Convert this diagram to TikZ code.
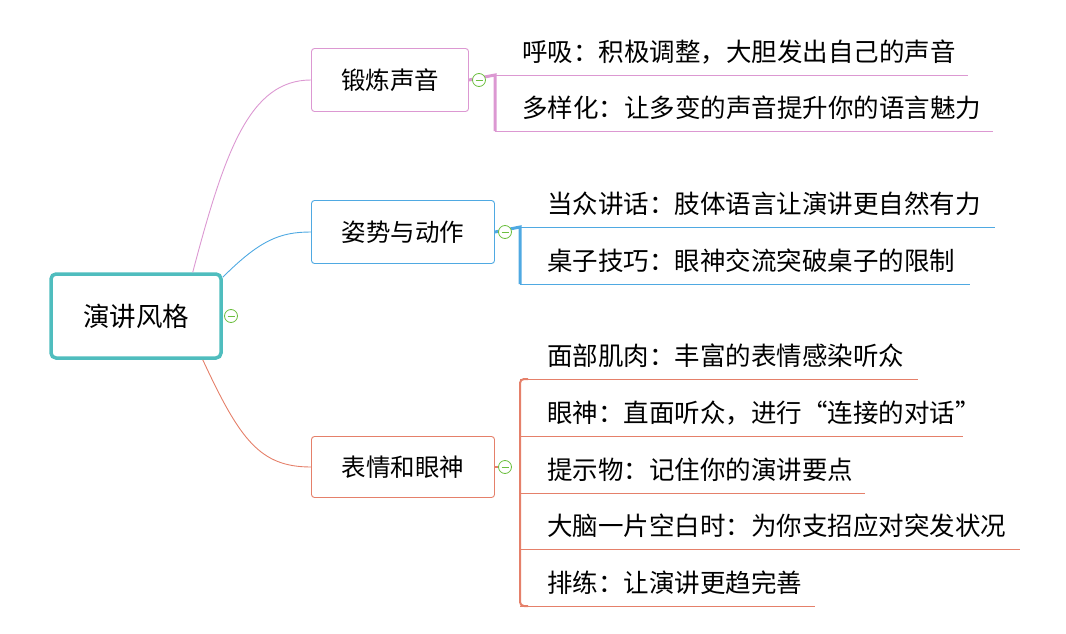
\documentclass[tikz,border=0pt]{standalone}
\usepackage{fontspec}
\newfontfamily\cjk{Noto Sans CJK SC}
\definecolor{rootc}{HTML}{4FBDBE}
\definecolor{pinkc}{HTML}{DC98D2}
\definecolor{bluec}{HTML}{4FA9E2}
\definecolor{redc}{HTML}{E5806A}
\definecolor{knobc}{HTML}{6CBF3F}
\tikzset{
  topic/.style={draw, line width=0.9pt, rounded corners=3pt, fill=white, font=\cjk\fontsize{24.5}{27}\selectfont, inner sep=0pt},
  leaf/.style={anchor=south west, inner xsep=27pt, inner ysep=11pt, align=left, font=\cjk\fontsize{25.5}{28}\selectfont},
  knob/.style={circle, draw=knobc, fill=white, minimum size=13pt, inner sep=0pt, line width=0.8pt,
    path picture={\draw[knobc, line width=0.8pt] ([xshift=-3.5pt]path picture bounding box.center) -- ([xshift=3.5pt]path picture bounding box.center);}},
}
\begin{document}
\begin{tikzpicture}[x=1pt, y=-1pt]
  \useasboundingbox (0,0) rectangle (1066,634);
  % root and topics
  \node[topic, draw=rootc, line width=3.5pt, rounded corners=5pt, minimum width=170pt, minimum height=84pt,
        font=\cjk\fontsize{26.5}{28}\selectfont] (root) at (136,316) {演讲风格};
  \node[topic, draw=pinkc, minimum width=157pt, minimum height=63pt] (voice) at (390,80) {锻炼声音};
  \node[topic, draw=bluec, minimum width=183pt, minimum height=63pt] (pose) at (403,232) {姿势与动作};
  \node[topic, draw=redc, minimum width=183pt, minimum height=61pt] (eyes) at (403,467) {表情和眼神};

  \draw[pinkc, line width=0.9pt] (root.north east) ++(-30,0) coordinate (r1) (r1) .. controls (225,150) and (250,80) .. (voice.west);
  \draw[bluec, line width=0.9pt] (root.north east) ++(0,5) coordinate (r2) (r2) .. controls (260,240) and (280,232) .. (pose.west);
  \draw[redc, line width=0.9pt] (root.south east) ++(-20,0) coordinate (r3) (r3) .. controls (240,440) and (260,467) .. (eyes.west);

  % leaves, voice
  \node[leaf, text width=419pt] (v1) at (495,75) {呼吸：积极调整，大胆发出自己的声音};
  \node[leaf, text width=444pt] (v2) at (495,131) {多样化：让多变的声音提升你的语言魅力};
  \foreach \n in {v1,v2} \draw[pinkc, line width=0.9pt] (\n.south west) -- (\n.south east);
  \draw[pinkc, line width=3pt] (voice.east) -- (v1.south west) -- (v2.south west);

  % leaves, pose
  \node[leaf, text width=421pt] (p1) at (520,227) {当众讲话：肢体语言让演讲更自然有力};
  \node[leaf, text width=396pt] (p2) at (520,284) {桌子技巧：眼神交流突破桌子的限制};
  \foreach \n in {p1,p2} \draw[bluec, line width=0.9pt] (\n.south west) -- (\n.south east);
  \draw[bluec, line width=3pt] (pose.east) -- (p1.south west) -- (p2.south west);

  % leaves, eyes
  \node[leaf, text width=344pt] (e1) at (520,379) {面部肌肉：丰富的表情感染听众};
  \node[leaf, text width=389pt] (e2) at (520,436) {眼神：直面听众，进行“连接的对话”};
  \node[leaf, text width=291pt] (e3) at (520,493) {提示物：记住你的演讲要点};
  \node[leaf, text width=446pt] (e4) at (520,549) {大脑一片空白时：为你支招应对突发状况};
  \node[leaf, text width=241pt] (e5) at (520,606) {排练：让演讲更趋完善};
  \foreach \n in {e1,e2,e3,e4,e5} \draw[redc, line width=0.9pt] (\n.south west) -- (\n.south east);
  \draw[redc, line width=2pt] (eyes.east) -- ([xshift=15pt]eyes.east);
  \draw[redc, line width=2pt, rounded corners=4pt] (e1.south west) ++(8,0) coordinate (b1) (b1) -- (e1.south west) -- (e5.south west) -- ++(8,0);

  % knobs
  \node[knob] (k0) at (231,316) {};
  \node[knob] (k1) at (479,80) {};
  \node[knob] (k2) at (505,232) {};
  \node[knob] (k3) at (505,467) {};
\end{tikzpicture}
\end{document}
